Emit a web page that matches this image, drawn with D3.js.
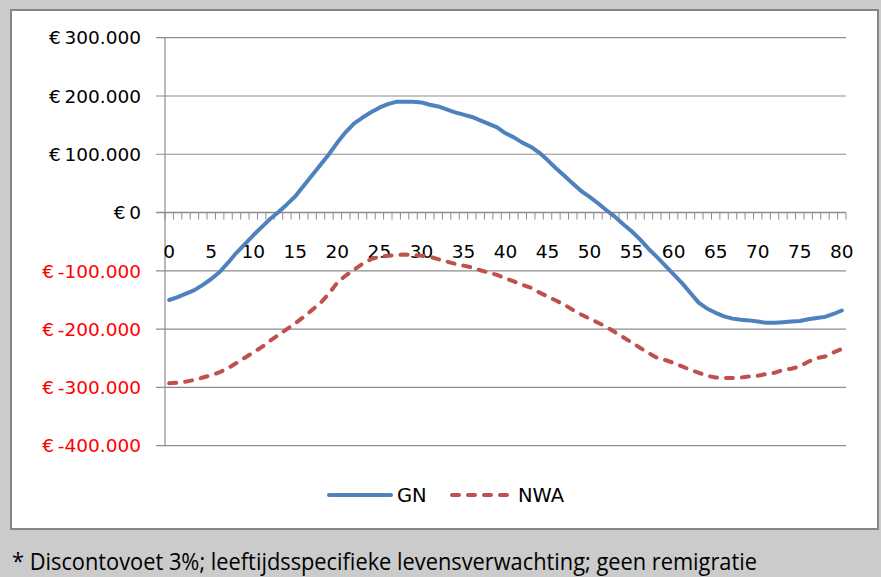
<!DOCTYPE html>
<html>
<head>
<meta charset="utf-8">
<script src="https://cdn.jsdelivr.net/npm/d3@7"></script>
<style>
  html, body { margin: 0; padding: 0; background: #cbcbcb; }
  svg { display: block; }
</style>
</head>
<body>
<svg id="chart" width="881" height="577"></svg>
<script>
// Leeftijd bij immigratie (0..80 jaar)
const ages = d3.range(0, 81);

// Netto bijdrage (in euro), GN
const gnValues = [
  -150000, -145000, -139000, -133000, -124000, -114000, -102000, -86000, -69000, -54000,
  -39000, -25000, -11000, 1000, 14000, 28000, 46000, 64000, 82000, 100000,
  120000, 138000, 153000, 163000, 172000, 180000, 186000, 190000, 190000, 190000,
  189000, 185000, 182000, 177000, 172000, 168000, 164000, 158000, 152000, 146000,
  136000, 129000, 120000, 113000, 103000, 90000, 76000, 63000, 50000, 37000,
  27000, 16000, 4000, -7000, -20000, -32000, -46000, -62000, -76000, -91000,
  -106000, -121000, -138000, -155000, -165000, -172000, -178000, -182000, -184000, -185000,
  -187000, -189000, -189000, -188000, -187000, -186000, -183000, -181000, -179000, -174000,
  -168000
];

// Netto bijdrage (in euro), NWA
const nwaValues = [
  -293000, -292000, -290000, -287000, -283000, -279000, -274000, -267000, -258000, -249000,
  -240000, -231000, -220000, -210000, -200000, -190000, -179000, -167000, -155000, -139000,
  -120000, -108000, -98000, -88000, -80000, -76000, -74000, -73000, -72000, -73000,
  -74000, -76000, -80000, -84000, -88000, -91000, -94000, -99000, -103000, -107000,
  -113000, -118000, -124000, -129000, -137000, -144000, -151000, -158000, -167000, -175000,
  -182000, -189000, -196000, -205000, -214000, -223000, -232000, -241000, -249000, -253000,
  -258000, -264000, -270000, -275000, -280000, -283000, -284000, -284000, -283000, -281000,
  -280000, -277000, -275000, -270000, -268000, -264000, -256000, -250000, -247000, -240000,
  -234000
];

const yTicks = [300000, 200000, 100000, 0, -100000, -200000, -300000, -400000];
const xTickLabels = d3.range(0, 81, 5);
const seriesNames = ["GN", "NWA"];
const footnote = "* Discontovoet 3%; leeftijdsspecifieke levensverwachting; geen remigratie";

const svg = d3.select("#chart");

// chart panel
svg.append("rect")
  .attr("x", 11).attr("y", 10)
  .attr("width", 867).attr("height", 519)
  .attr("fill", "#ffffff")
  .attr("stroke", "#868686")
  .attr("stroke-width", 2);

const plot = { left: 165, right: 846, top: 37.7, bottom: 445.7 };

const x = d3.scaleBand().domain(ages).range([plot.left, plot.right]).paddingInner(0).paddingOuter(0);
const y = d3.scaleLinear().domain([-400000, 300000]).range([plot.bottom, plot.top]);
const cx = d => x(d) + x.bandwidth() / 2;

const thousands = d3.formatLocale({ decimal: ",", thousands: ".", grouping: [3], currency: ["€", ""] }).format(",.0f");
const euro = v => "€\u2009" + (v < 0 ? "-" : "") + thousands(Math.abs(v));

// horizontal gridlines (with small outer tick on the left)
svg.append("g").selectAll("line")
  .data(yTicks)
  .join("line")
  .attr("x1", plot.left - 9).attr("x2", plot.right)
  .attr("y1", d => y(d)).attr("y2", d => y(d))
  .attr("stroke", "#8c8c8c")
  .attr("stroke-width", d => d === 0 ? 1.6 : 1.2);

// vertical axis line
svg.append("line")
  .attr("x1", plot.left).attr("x2", plot.left)
  .attr("y1", y(300000)).attr("y2", y(-400000))
  .attr("stroke", "#8c8c8c").attr("stroke-width", 1.2);

// y-axis labels
svg.append("g").selectAll("text")
  .data(yTicks)
  .join("text")
  .attr("x", 141)
  .attr("y", d => y(d))
  .attr("dy", "0.36em")
  .attr("text-anchor", "end")
  .attr("font-family", "DejaVu Sans, sans-serif")
  .attr("font-size", 18.5)
  .attr("fill", d => d < 0 ? "#ff0000" : "#000000")
  .text(euro);

// category tick marks on the zero axis (at band boundaries)
const boundaries = ages.map(a => x(a)).concat([x(ages[ages.length - 1]) + x.bandwidth()]);
svg.append("g").selectAll("line")
  .data(boundaries)
  .join("line")
  .attr("x1", d => d).attr("x2", d => d)
  .attr("y1", y(0)).attr("y2", y(0) + 7)
  .attr("stroke", "#8c8c8c").attr("stroke-width", 1);

// x-axis labels
svg.append("g").selectAll("text")
  .data(xTickLabels)
  .join("text")
  .attr("x", d => cx(d))
  .attr("y", 251)
  .attr("dy", "0.36em")
  .attr("text-anchor", "middle")
  .attr("font-family", "DejaVu Sans, sans-serif")
  .attr("font-size", 18.5)
  .attr("fill", "#000000")
  .text(d => d);

// series lines
const line = d3.line().x((d, i) => cx(ages[i])).y(d => y(d)).curve(d3.curveLinear);

svg.append("path")
  .datum(nwaValues)
  .attr("d", line)
  .attr("fill", "none")
  .attr("stroke", "#c0504d")
  .attr("stroke-width", 4)
  .attr("stroke-linecap", "round")
  .attr("stroke-dasharray", "7,9");

svg.append("path")
  .datum(gnValues)
  .attr("d", line)
  .attr("fill", "none")
  .attr("stroke", "#4f81bd")
  .attr("stroke-width", 4)
  .attr("stroke-linejoin", "round")
  .attr("stroke-linecap", "round");

// legend
const legend = svg.append("g");
const legendItems = [
  { name: seriesNames[0], x1: 329, x2: 391, color: "#4f81bd", dash: null, tx: 397 },
  { name: seriesNames[1], x1: 452, x2: 513, color: "#c0504d", dash: "7,9", tx: 518 }
];
legendItems.forEach(it => {
  legend.append("line")
    .attr("x1", it.x1).attr("x2", it.x2)
    .attr("y1", 495).attr("y2", 495)
    .attr("stroke", it.color).attr("stroke-width", 4)
    .attr("stroke-linecap", "round")
    .attr("stroke-dasharray", it.dash);
  legend.append("text")
    .attr("x", it.tx).attr("y", 495)
    .attr("dy", "0.36em")
    .attr("font-family", "DejaVu Sans, sans-serif")
    .attr("font-size", 19.5)
    .attr("fill", "#000000")
    .text(it.name);
});

// footnote below the chart
svg.append("text")
  .attr("x", 12).attr("y", 570)
  .attr("font-family", "Open Sans, sans-serif")
  .attr("font-size", 23)
  .attr("textLength", 745)
  .attr("lengthAdjust", "spacingAndGlyphs")
  .attr("fill", "#000000")
  .text(footnote);
</script>
</body>
</html>
